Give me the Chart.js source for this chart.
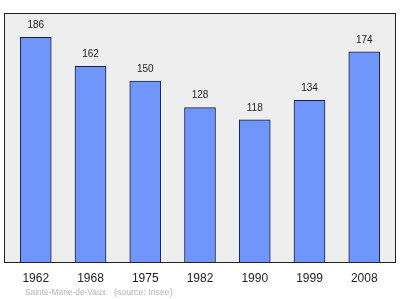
<!DOCTYPE html>
<html><head><meta charset="utf-8">
<script src="https://cdn.jsdelivr.net/npm/chart.js@4/dist/chart.umd.min.js"></script>
<style>
html,body{margin:0;padding:0;background:#fff;}
#wrap{position:relative;width:400px;height:299px;}
.src{position:absolute;top:286px;font:8.4px "Liberation Sans",Arial,sans-serif;color:#b4b4b4;white-space:pre;line-height:12px;}
</style></head>
<body><div id="wrap"><canvas id="c" width="400" height="299"></canvas><span class="src" style="left:25px">Sainte-Marie-de-Vaux</span><span class="src" style="left:114px;font-size:8.8px">(source: Insee)</span></div>
<script>
const years = ['1962','1968','1975','1982','1990','1999','2008'];
const population = [186,162,150,128,118,134,174];

const bgPlugin = {
  id:'bg',
  beforeDatasetsDraw(chart){
    const {ctx, chartArea:a} = chart;
    ctx.save(); ctx.fillStyle='#eeeeee';
    ctx.fillRect(a.left,a.top,a.right-a.left,a.bottom-a.top);
    ctx.restore();
  },
  afterDatasetsDraw(chart){
    const {ctx, chartArea:a} = chart;
    ctx.save(); ctx.strokeStyle='#222'; ctx.lineWidth=1;
    ctx.strokeRect(a.left+0.5,a.top+0.5,a.right-a.left-1,a.bottom-a.top-1);
    ctx.fillStyle='#222'; ctx.font='10px "Liberation Sans", Arial, sans-serif';
    ctx.textAlign='center'; ctx.textBaseline='middle';
    chart.getDatasetMeta(0).data.forEach((el,i)=>{
      ctx.fillText(String(population[i]), el.x, el.y-12);
    });
    ctx.restore();
  }
};

new Chart(document.getElementById('c'),{
  type:'bar',
  data:{datasets:[{
    data: population.map((v,i)=>({x:i,y:v})),
    backgroundColor:'#7096fb',
    borderColor:'#1a1f40',
    borderWidth:1,
    barThickness:31
  }]},
  options:{
    responsive:false, animation:false,
    layout:{padding:{left:4,right:4,top:13,bottom:0}},
    plugins:{legend:{display:false},tooltip:{enabled:false}},
    scales:{
      x:{type:'linear',min:-0.58,max:6.58,offset:false,
        grid:{display:false,drawTicks:false},border:{display:false},
        afterFit(s){s.height=36;},
        ticks:{stepSize:1,padding:8,includeBounds:false,color:'#222',font:{size:12,family:'"Liberation Sans", Arial, sans-serif'},
          autoSkip:false,maxRotation:0,
          callback:(v)=>Number.isInteger(v)&&years[v]!==undefined?years[v]:''}},
      y:{display:false,min:0,max:206}
    }
  },
  plugins:[bgPlugin]
});
</script></body></html>
